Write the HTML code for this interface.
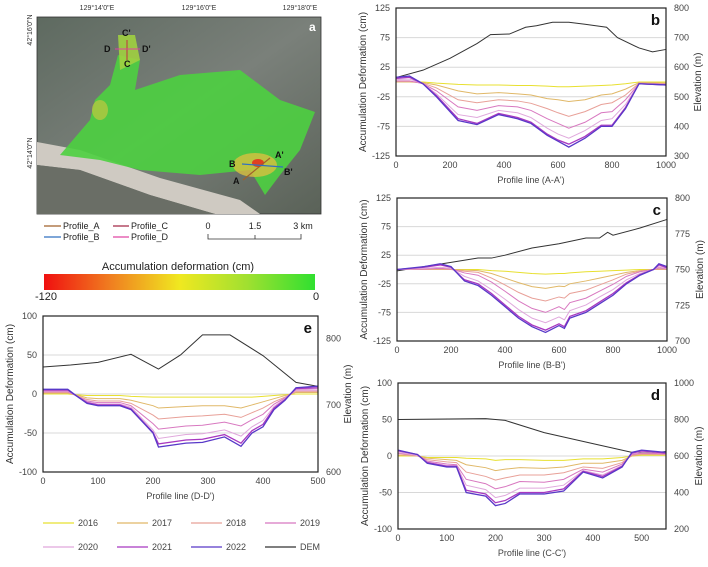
<!DOCTYPE html>
<html><head><meta charset="utf-8"><style>
body{margin:0;background:#fff;}
svg{font-family:"Liberation Sans",sans-serif;display:block}
</style></head><body>
<svg id="fig" width="708" height="567" viewBox="0 0 708 567">
<defs>
<linearGradient id="cb" x1="0" x2="1"><stop offset="0" stop-color="#f01010"/><stop offset="0.25" stop-color="#f08020"/><stop offset="0.5" stop-color="#f0e820"/><stop offset="0.75" stop-color="#a0e030"/><stop offset="1" stop-color="#30e030"/></linearGradient>
<linearGradient id="bg" x1="0" y1="0" x2="1" y2="1"><stop offset="0" stop-color="#5e6a60"/><stop offset="0.5" stop-color="#7a807a"/><stop offset="1" stop-color="#5a6258"/></linearGradient>
</defs>
<g>
<rect x="37" y="17" width="284" height="197" fill="url(#bg)" stroke="#333" stroke-width="0.8"/>
<path d="M37 142 L80 150 L160 178 L240 200 L260 214 L215 214 L150 195 L80 170 L37 165Z" fill="#cfcac2"/>
<path d="M37 165 L80 170 L150 195 L215 214 L37 214Z" fill="#6a6e66"/>
<path d="M60 155 L90 120 L95 100 L110 85 L118 55 L140 60 L135 90 L180 75 L240 70 L280 100 L315 112 L300 150 L280 175 L265 195 L250 170 L200 175 L140 170 L100 160Z" fill="#4cd040" opacity="0.9"/>
<path d="M118 35 L135 35 L140 60 L120 70Z" fill="#a0d040" opacity="0.9"/>
<ellipse cx="255" cy="165" rx="22" ry="12" fill="#d8c040" opacity="0.8"/>
<ellipse cx="258" cy="163" rx="6" ry="4" fill="#e04020"/>
<ellipse cx="100" cy="110" rx="8" ry="10" fill="#c0c840" opacity="0.7"/>
<line x1="243" y1="180" x2="270" y2="158" stroke="#a0602a" stroke-width="1.2"/>
<line x1="242" y1="164" x2="283" y2="167" stroke="#3070c0" stroke-width="1.2"/>
<line x1="127" y1="40" x2="127" y2="60" stroke="#c03040" stroke-width="1"/>
<line x1="115" y1="49" x2="140" y2="49" stroke="#e040a0" stroke-width="1"/>
<g font-size="9" font-weight="bold" fill="#111">
<text x="122" y="36">C'</text><text x="104" y="52">D</text><text x="142" y="52">D'</text><text x="124" y="67">C</text>
<text x="229" y="167">B</text><text x="275" y="158">A'</text><text x="284" y="175">B'</text><text x="233" y="184">A</text>
</g>
<text x="309" y="31" font-size="12" font-weight="bold" fill="#fff">a</text>
<g font-size="7" fill="#333">
<text x="97" y="10" text-anchor="middle">129°14'0"E</text>
<text x="199" y="10" text-anchor="middle">129°16'0"E</text>
<text x="300" y="10" text-anchor="middle">129°18'0"E</text>
<text transform="translate(32,30) rotate(-90)" text-anchor="middle">42°16'0"N</text>
<text transform="translate(32,153) rotate(-90)" text-anchor="middle">42°14'0"N</text>
</g>
<g font-size="9" fill="#222">
<line x1="44" y1="226" x2="61" y2="226" stroke="#a0602a" stroke-width="1.2"/><text x="63" y="229">Profile_A</text>
<line x1="44" y1="237" x2="61" y2="237" stroke="#3070c0" stroke-width="1.2"/><text x="63" y="240">Profile_B</text>
<line x1="113" y1="226" x2="129" y2="226" stroke="#a02040" stroke-width="1.2"/><text x="131" y="229">Profile_C</text>
<line x1="113" y1="237" x2="129" y2="237" stroke="#e040a0" stroke-width="1.2"/><text x="131" y="240">Profile_D</text>
</g>
<g font-size="9" fill="#222">
<text x="208" y="229" text-anchor="middle">0</text><text x="255" y="229" text-anchor="middle">1.5</text><text x="303" y="229" text-anchor="middle">3 km</text>
<path d="M208 234 V239 H301 V234 M255 235 V239" fill="none" stroke="#333" stroke-width="0.8"/>
</g>
<text x="178" y="270" font-size="11" text-anchor="middle" fill="#222">Accumulation deformation (cm)</text>
<rect x="44" y="274" width="271" height="16" fill="url(#cb)"/>
<text x="35" y="300" font-size="11" fill="#222">-120</text>
<text x="313" y="300" font-size="11" fill="#222">0</text>
</g>
<g id="legend" font-size="9" fill="#444"></g>
<g id="charts"></g>
</svg>
<script>
const years=['2016','2017','2018','2019','2020','2021','2022'];
const yearColors=['#e8e030','#e0b868','#e8a098','#d878c0','#e0a8dc','#a838c0','#5838c8'];
const demColor='#333';
// chart b (A-A')
const bX=[0,50,100,150,230,300,380,450,500,560,600,640,700,760,800,850,900,1000];
const b2016=[0,0,0,-2,-4,-5,-5,-6,-6,-7,-8,-8,-7,-6,-5,-3,0,0];
const b2017=[0,0,-1,-5,-15,-20,-18,-20,-22,-28,-30,-33,-30,-22,-20,-12,-1,-2];
const b2018=[1,1,-2,-10,-30,-35,-30,-32,-36,-45,-52,-58,-50,-38,-35,-22,-2,-3];
const b2019=[2,2,-3,-15,-42,-48,-40,-42,-48,-62,-70,-78,-68,-52,-50,-30,-3,-4];
const b2020=[4,5,-3,-20,-55,-60,-48,-52,-60,-78,-88,-95,-82,-65,-62,-38,-3,-5];
const b2021=[6,8,-3,-23,-62,-70,-53,-60,-68,-88,-98,-105,-92,-73,-73,-43,-3,-5];
const b2022=[8,10,-3,-25,-65,-72,-55,-62,-70,-90,-100,-110,-95,-75,-75,-45,-3,-5];
const bDemX=[0,100,200,300,350,420,480,520,580,640,700,740,780,820,900,950,1000];
const bDem=[565,590,630,680,710,712,735,740,752,752,745,740,735,700,665,652,660];
// chart c (B-B')
const cX=[0,100,160,200,250,300,350,400,450,500,550,600,620,640,700,750,800,850,900,950,970,1000];
const c2016=[0,0,0,0,0,0,-2,-3,-5,-7,-8,-7,-7,-6,-4,-3,-2,-1,0,0,0,0];
const c2017=[0,0,0,0,-1,-2,-7,-15,-23,-30,-33,-29,-30,-25,-20,-15,-10,-5,-2,0,0,0];
const c2018=[0,0,1,0,-3,-5,-15,-27,-40,-50,-55,-48,-50,-42,-36,-27,-18,-8,-3,0,1,0];
const c2019=[0,1,2,1,-6,-10,-22,-38,-55,-68,-75,-65,-70,-58,-50,-38,-26,-12,-4,0,3,1];
const c2020=[0,2,4,2,-12,-20,-35,-52,-70,-85,-93,-83,-88,-72,-62,-48,-35,-18,-7,0,5,2];
const c2021=[0,4,8,4,-18,-25,-42,-62,-82,-97,-106,-95,-100,-82,-72,-57,-42,-23,-9,0,8,3];
const c2022=[0,5,10,5,-20,-28,-45,-65,-85,-100,-110,-98,-103,-85,-75,-60,-45,-25,-10,0,10,5];
const cDemX=[0,200,300,350,400,500,600,700,750,780,800,900,1000];
const cDem=[749,755,758,758,760,765,768,772,772,776,774,779,785];
// chart d (C-C')
const dX=[0,40,60,100,120,140,180,200,220,250,300,340,380,420,460,480,500,550];
const d2016=[0,0,-2,-2,-2,-3,-4,-6,-5,-5,-6,-6,-4,-4,-2,0,1,1];
const d2017=[1,0,-3,-5,-6,-12,-16,-20,-18,-16,-17,-15,-10,-10,-6,0,2,2];
const d2018=[3,0,-5,-8,-9,-22,-28,-33,-30,-26,-26,-23,-15,-17,-9,1,3,2];
const d2019=[4,1,-7,-11,-12,-32,-38,-45,-42,-35,-36,-32,-18,-22,-11,2,4,3];
const d2020=[5,1,-8,-13,-13,-40,-46,-57,-54,-44,-44,-40,-20,-26,-13,3,6,4];
const d2021=[7,2,-9,-14,-14,-47,-52,-64,-61,-50,-50,-45,-21,-28,-14,4,7,4];
const d2022=[8,2,-10,-15,-15,-50,-55,-68,-65,-52,-52,-48,-22,-30,-15,5,8,5];
const dDemX=[0,180,220,300,400,480,520,550];
const dDem=[800,805,795,728,668,620,615,625];
// chart e (D-D')
const eX=[0,45,60,80,100,140,160,200,210,260,290,330,360,380,400,420,440,460,500];
const e2016=[0,0,-1,-2,-2,-2,-3,-4,-4,-4,-4,-4,-4,-4,-3,-2,-1,0,0];
const e2017=[1,1,-1,-5,-6,-6,-8,-15,-18,-16,-15,-15,-18,-14,-10,-6,-2,2,2];
const e2018=[2,2,-2,-7,-9,-9,-12,-27,-32,-29,-28,-26,-30,-24,-18,-10,-4,3,3];
const e2019=[3,3,-2,-9,-11,-11,-15,-38,-45,-41,-40,-36,-41,-33,-26,-13,-5,5,5];
const e2020=[4,4,-2,-10,-13,-13,-17,-46,-57,-52,-51,-46,-54,-42,-34,-16,-6,6,7];
const e2021=[5,5,-2,-11,-14,-14,-19,-49,-64,-59,-58,-52,-63,-47,-39,-18,-7,7,8];
const e2022=[6,6,-2,-12,-15,-15,-20,-50,-68,-63,-62,-55,-67,-50,-42,-20,-8,8,10];
const eDemX=[0,50,100,160,210,250,290,340,400,460,500];
const eDem=[757,760,764,776,754,775,805,805,774,734,728];

const NS='http://www.w3.org/2000/svg';
const root=document.getElementById('charts');
function mk(tag,attrs,parent){const e=document.createElementNS(NS,tag);for(const k in attrs)e.setAttribute(k,attrs[k]);parent.appendChild(e);return e;}
function chart(o){
  const g=mk('g',{},root);
  
  
  const sx=v=>o.L+(v-o.x0)/(o.x1-o.x0)*(o.R-o.L);
  const sy=v=>o.B-(v-o.y0)/(o.y1-o.y0)*(o.B-o.T);
  const sr=v=>o.B-(v-o.r0)/(o.r1-o.r0)*(o.B-o.T);
  o.yt.forEach(t=>{
    if(t!==o.y0&&t!==o.y1){const gl=mk('line',{x1:o.L,x2:o.R,y1:sy(t),y2:sy(t),stroke:'#d8d8d8','stroke-width':1},g);
    
    }
    const tx=mk('text',{x:o.L-6,y:sy(t)+3,'font-size':9,'text-anchor':'end',fill:'#444'},g);tx.textContent=t;
    
    
  });
  o.rt.forEach(t=>{const tx=mk('text',{x:o.R+8,y:sr(t)+3,'font-size':9,fill:'#444'},g);tx.textContent=t;
    
    });
  o.xt.forEach(t=>{const tx=mk('text',{x:sx(t),y:o.B+12,'font-size':9,'text-anchor':'middle',fill:'#444'},g);tx.textContent=t;
    
    });
  const dp=o.demX.map((x,i)=>sx(x)+','+sr(o.dem[i])).join(' ');
  const dl=mk('polyline',{points:dp,fill:'none',stroke:demColor,'stroke-width':1},g);
  
  
  o.series.forEach((s,k)=>{
    const p=o.xs.map((x,i)=>sx(x)+','+sy(s[i])).join(' ');
    const l=mk('polyline',{points:p,fill:'none',stroke:yearColors[k],'stroke-width':k>=5?1.3:1},g);
    
    
  });
  const fr=mk('rect',{x:o.L,y:o.T,width:o.R-o.L,height:o.B-o.T,fill:'none',stroke:'#222','stroke-width':1.2},g);
  
  
  const lt=mk('text',{x:o.R-6,y:o.T+17,'font-size':15,'font-weight':'bold','text-anchor':'end',fill:'#111'},g);lt.textContent=o.letter;
  
  
  const xt=mk('text',{x:(o.L+o.R)/2,y:o.B+27,'font-size':9,'text-anchor':'middle',fill:'#444'},g);xt.textContent=o.xtitle;
  
  
  const yl=mk('text',{transform:`translate(${o.L-30},${(o.T+o.B)/2}) rotate(-90)`,'font-size':10,'text-anchor':'middle',fill:'#333'},g);yl.textContent='Accumulation Deformation (cm)';
  
  
  const yr=mk('text',{transform:`translate(${o.R+o.rOff},${(o.T+o.B)/2}) rotate(-90)`,'font-size':10,'text-anchor':'middle',fill:'#333'},g);yr.textContent='Elevation (m)';
  
  
}
chart({letter:'b',L:396,R:666,T:8,B:156,x0:0,x1:1000,y0:-125,y1:125,r0:300,r1:800,xt:[0,200,400,600,800,1000],yt:[125,75,25,-25,-75,-125],rt:[800,700,600,500,400,300],xs:bX,series:[b2016,b2017,b2018,b2019,b2020,b2021,b2022],demX:bDemX,dem:bDem,xtitle:"Profile line (A-A')",rOff:35});
chart({letter:'c',L:397,R:667,T:198,B:341,x0:0,x1:1000,y0:-125,y1:125,r0:700,r1:800,xt:[0,200,400,600,800,1000],yt:[125,75,25,-25,-75,-125],rt:[800,775,750,725,700],xs:cX,series:[c2016,c2017,c2018,c2019,c2020,c2021,c2022],demX:cDemX,dem:cDem,xtitle:"Profile line (B-B')",rOff:36});
chart({letter:'d',L:398,R:666,T:383,B:529,x0:0,x1:550,y0:-100,y1:100,r0:200,r1:1000,xt:[0,100,200,300,400,500],yt:[100,50,0,-50,-100],rt:[1000,800,600,400,200],xs:dX,series:[d2016,d2017,d2018,d2019,d2020,d2021,d2022],demX:dDemX,dem:dDem,xtitle:"Profile line (C-C')",rOff:36});
chart({letter:'e',L:43,R:318,T:316,B:472,x0:0,x1:500,y0:-100,y1:100,r0:600,r1:833.3,xt:[0,100,200,300,400,500],yt:[100,50,0,-50,-100],rt:[800,700,600],xs:eX,series:[e2016,e2017,e2018,e2019,e2020,e2021,e2022],demX:eDemX,dem:eDem,xtitle:"Profile line (D-D')",rOff:33});
// legend
const lg=document.getElementById('legend');
const labels=years.concat(['DEM']);const cols=yearColors.concat([demColor]);
labels.forEach((t,i)=>{
  const c=i%4,r=Math.floor(i/4);const x=43+c*74,y=523+r*24;
  const l=mk('line',{x1:x,x2:x+31,y1:y,y2:y,stroke:cols[i],'stroke-width':1.2},lg);
  
  
  const tx=mk('text',{x:x+35,y:y+3},lg);tx.textContent=t;
  
  
});
</script>
</body></html>
